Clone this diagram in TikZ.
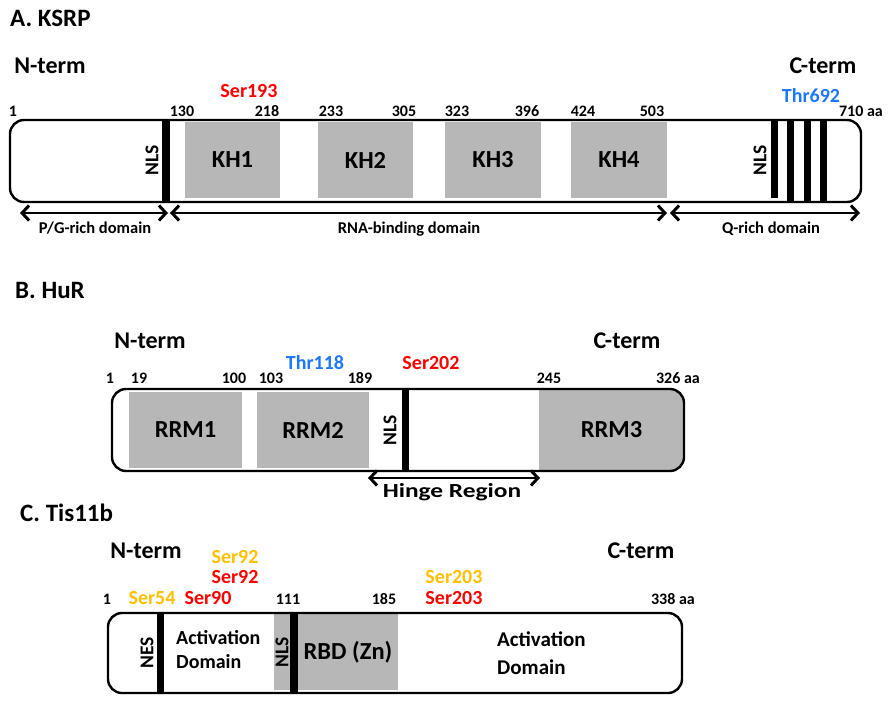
\documentclass[tikz,border=0pt]{standalone}
\usepackage{fontspec}
\setmainfont{Carlito}
\usetikzlibrary{arrows.meta}
\definecolor{domgray}{RGB}{183,183,183}
\definecolor{sitered}{RGB}{255,0,0}
\definecolor{siteblue}{RGB}{30,120,255}
\definecolor{siteorange}{RGB}{255,192,0}

\begin{document}
\begin{tikzpicture}[
    x=1pt, y=-1pt,
    protein/.style={draw, line width=2.4pt, rounded corners=14pt, inner sep=0pt},
    dombox/.style={fill=domgray, inner sep=0pt, font=\fontsize{24.5}{28}\selectfont\bfseries},
    bar/.style={line width=7.5pt},
    title/.style={anchor=base west, inner sep=0pt, font=\fontsize{25}{28}\selectfont\bfseries},
    term/.style={anchor=base, inner sep=0pt, font=\fontsize{24}{28}\selectfont\bfseries},
    num/.style={anchor=base, inner sep=0pt, font=\fontsize{16}{18}\selectfont\bfseries},
    site/.style={anchor=base, inner sep=0pt, font=\fontsize{20}{22}\selectfont\bfseries},
    signal/.style={rotate=90, inner sep=0pt, font=\fontsize{19.5}{21}\selectfont\bfseries},
    region/.style={anchor=base, inner sep=0pt, font=\fontsize{16.5}{18}\selectfont\bfseries},
    areatext/.style={anchor=west, align=left, inner sep=0pt},
    span/.style={line width=2.2pt,
        {Straight Barb[length=7pt,width=15pt,line width=3pt]}-{Straight Barb[length=7pt,width=15pt,line width=3pt]}}
]
\useasboundingbox (0,0) rectangle (892,704);

% A. KSRP
\node[title] (titleA) at (10,27) {A. KSRP};
\node[term] (ntermA) at (50,73) {N-term};
\node[term] (ctermA) at (823,73) {C-term};
\node[site, text=sitered] (ser193) at (249,97) {Ser193};
\node[site, text=siteblue] (thr692) at (811,102) {Thr692};
\node[num] (a1) at (13,116) {1};
\node[num] (a130) at (182,116) {130};
\node[num] (a218) at (267,116) {218};
\node[num] (a233) at (331,116) {233};
\node[num] (a305) at (404,116) {305};
\node[num] (a323) at (457,116) {323};
\node[num] (a396) at (527,116) {396};
\node[num] (a424) at (583,116) {424};
\node[num] (a503) at (652,116) {503};
\node[num] (a710) at (861,116) {710 aa};

\node[dombox, minimum width=95, minimum height=76] (kh1) at (232.5,160) {KH1};
\node[dombox, minimum width=95, minimum height=76] (kh2) at (365.5,160) {KH2};
\node[dombox, minimum width=96, minimum height=76] (kh3) at (493,160) {KH3};
\node[dombox, minimum width=96, minimum height=76] (kh4) at (619,160) {KH4};
\node[protein, minimum width=851, minimum height=82] (ksrp) at (435.5,161) {};

\draw[bar] (166,120) -- (166,202);
\draw[bar, line width=7pt] (774.5,120) -- (774.5,198);
\foreach \x in {790.5,807,823}
    \draw[bar, line width=7pt] (\x,120) -- (\x,202);
\node[signal] (nlsA1) at (152,160) {NLS};
\node[signal] (nlsA2) at (760,160) {NLS};

\coordinate (pgL) at (20,213);
\coordinate (pgR) at (168,213);
\coordinate (rnaL) at (170,213);
\coordinate (rnaR) at (667,213);
\coordinate (qL) at (670,213);
\coordinate (qR) at (860,213);
\draw[span] (pgL) -- (pgR);
\draw[span] (rnaL) -- (rnaR);
\draw[span] (qL) -- (qR);
\node[region] (pgText) at (95,233) {P/G-rich domain};
\node[region] (rnaText) at (409,233) {RNA-binding domain};
\node[region] (qText) at (771,233) {Q-rich domain};

% B. HuR
\node[title] (titleB) at (15,298) {B. HuR};
\node[term] (ntermB) at (150,348) {N-term};
\node[term] (ctermB) at (627,348) {C-term};
\node[site, text=siteblue] (thr118) at (315,369) {Thr118};
\node[site, text=sitered] (ser202) at (431,369) {Ser202};
\node[num] (b1) at (110,383) {1};
\node[num] (b19) at (139,383) {19};
\node[num] (b100) at (234,383) {100};
\node[num] (b103) at (271,383) {103};
\node[num] (b189) at (360,383) {189};
\node[num] (b245) at (549,383) {245};
\node[num] (b326) at (678,383) {326 aa};

\node[dombox, minimum width=113, minimum height=76] (rrm1) at (185.5,430) {RRM1};
\node[dombox, minimum width=112, minimum height=76] (rrm2) at (313,430) {RRM2};
\begin{scope}
\clip[rounded corners=14pt] (112,389) rectangle (684,471);
\node[dombox, minimum width=145, minimum height=82] (rrm3) at (611.5,430) {RRM3};
\end{scope}
\node[protein, minimum width=572, minimum height=82] (hur) at (398,430) {};

\draw[bar, line width=7pt] (405.5,389) -- (405.5,471);
\node[signal] (nlsB) at (390,430) {NLS};

\coordinate (hingeL) at (368,478);
\coordinate (hingeR) at (540,478);
\draw[span] (hingeL) -- (hingeR);
\node[region, font=\fontsize{20}{22}\selectfont\bfseries, xscale=1.27] (hingeText) at (452,497) {Hinge Region};

% C. Tis11b
\node[title] (titleC) at (20,521) {C. Tis11b};
\node[term] (ntermC) at (146,558) {N-term};
\node[term] (ctermC) at (641,558) {C-term};
\node[site, text=siteorange] (ser92o) at (235,563) {Ser92};
\node[site, text=sitered] (ser92r) at (235,583) {Ser92};
\node[num] (c1) at (107,604) {1};
\node[site, text=siteorange] (ser54) at (152,604) {Ser54};
\node[site, text=sitered] (ser90) at (208,604) {Ser90};
\node[num] (c111) at (288,604) {111};
\node[num] (c185) at (384,604) {185};
\node[site, text=siteorange] (ser203o) at (454,583) {Ser203};
\node[site, text=sitered] (ser203r) at (454,604) {Ser203};
\node[num] (c338) at (673,604) {338 aa};

\node[dombox, signal, minimum width=76, minimum height=16] (nlsC) at (282,652) {NLS};
\node[dombox, minimum width=100, minimum height=76] (rbd) at (348,652) {RBD (Zn)};
\node[protein, minimum width=574, minimum height=80] (tis) at (395,653) {};

\draw[bar, line width=7pt] (160.5,613) -- (160.5,693);
\draw[bar, line width=8pt] (294,613) -- (294,693);
\node[signal] (nesC) at (147,653) {NES};
\node[areatext, font=\fontsize{20}{24}\selectfont\bfseries] (actL) at (176,650) {Activation\\Domain};
\node[areatext, font=\fontsize{21}{28}\selectfont\bfseries] (actR) at (497,653) {Activation\\Domain};
\end{tikzpicture}
\end{document}
